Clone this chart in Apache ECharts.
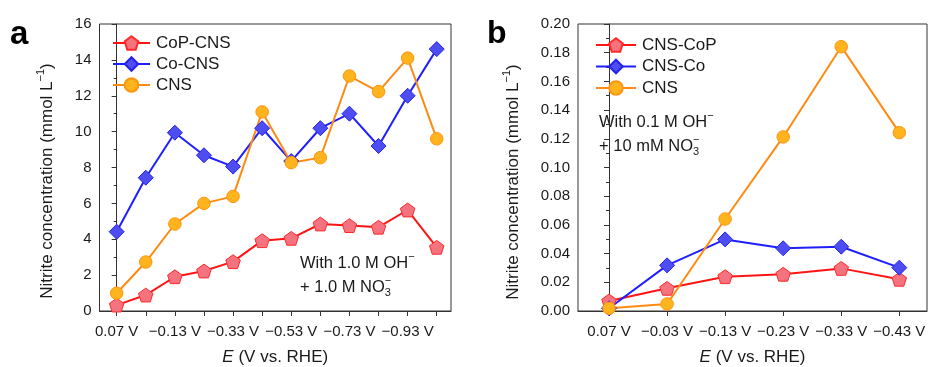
<!DOCTYPE html>
<html>
<head>
<meta charset="utf-8">
<script src="https://cdn.jsdelivr.net/npm/echarts@6/dist/echarts.min.js"></script>
<style>
  html, body { margin: 0; padding: 0; background: #fff; }
  #chart { width: 928px; height: 367px; }
</style>
</head>
<body>
<div id="chart"></div>
<script>
// ---- Panel a: 1.0 M OH- + 1.0 M NO3- ----
const potentialsA = ['0.07 V', '−0.03 V', '−0.13 V', '−0.23 V', '−0.33 V', '−0.43 V',
                     '−0.53 V', '−0.63 V', '−0.73 V', '−0.83 V', '−0.93 V', '−1.03 V'];
const copCnsA = [0.33, 0.89, 1.91, 2.23, 2.75, 3.92, 4.05, 4.85, 4.76, 4.67, 5.63, 3.55];
const coCnsA  = [4.42, 7.43, 9.94, 8.68, 8.05, 10.19, 8.36, 10.19, 11.0, 9.2, 12.0, 14.6];
const cnsA    = [0.99, 2.73, 4.85, 6.0, 6.39, 11.1, 8.27, 8.55, 13.1, 12.23, 14.1, 9.6];

// ---- Panel b: 0.1 M OH- + 10 mM NO3- ----
const potentialsB = ['0.07 V', '−0.03 V', '−0.13 V', '−0.23 V', '−0.33 V', '−0.43 V'];
const cnsCopB = [0.0070, 0.0158, 0.0239, 0.0256, 0.0297, 0.0221];
const cnsCoB  = [0.0019, 0.0318, 0.0499, 0.0437, 0.0448, 0.0302];
const cnsB    = [0.0019, 0.0049, 0.0641, 0.1213, 0.1842, 0.1243];

const namesA = ['CoP-CNS', 'Co-CNS', 'CNS'];
const namesB = ['CNS-CoP', 'CNS-Co', 'CNS'];

const FONT = '"Liberation Sans", Arial, sans-serif';
const INK = '#1a1a1a';
const PENTAGON = 'path://M0,-1L0.951,-0.309L0.588,0.809L-0.588,0.809L-0.951,-0.309Z';

const styles = [
  { line: '#ff1414', fill: '#f4737f', border: '#ff2a2a', symbol: PENTAGON, size: 14.5 },
  { line: '#1e1eff', fill: '#4d4df2', border: '#2424e6', symbol: 'diamond', size: 15 },
  { line: '#ff8a12', fill: '#ffb41e', border: '#ff9410', symbol: 'circle', size: 12.5 }
];

const pairs = vals => vals.map((v, i) => [i, v]);
const indices = arr => arr.map((_, i) => i);

// text measuring for hand-set sub/superscripts
const ctx = document.createElement('canvas').getContext('2d');
function textWidth(t, size, style) {
  ctx.font = (style || 'normal') + ' ' + size + 'px ' + FONT;
  return ctx.measureText(t).width;
}
// lays out text pieces along a line starting at local x = 0
function pieces(parts, align) {
  let x = 0, out = [];
  parts.forEach(p => {
    const w = textWidth(p.t, p.size, p.fontStyle);
    out.push({ t: p.t, size: p.size, x: x, dy: p.dy || 0, fontStyle: p.fontStyle });
    if (!p.hold) x += w;
  });
  const shift = align === 'center' ? -x / 2 : 0;
  return out.map(o => ({
    type: 'text',
    x: o.x + shift,
    y: o.dy,
    style: {
      text: o.t, fill: INK, font: (o.fontStyle || 'normal') + ' ' + o.size + 'px ' + FONT,
      align: 'left', verticalAlign: 'middle'
    }
  }));
}

function series(name, vals, st, xi) {
  return {
    type: 'line', name: name, xAxisIndex: xi, yAxisIndex: xi,
    data: pairs(vals),
    symbol: st.symbol, symbolSize: st.size, symbolKeepAspect: true,
    lineStyle: { color: st.line, width: 2 },
    itemStyle: { color: st.fill, borderColor: st.border, borderWidth: 1 },
    emphasis: { disabled: true },
    z: 2
  };
}

function xAxis(gi, labels, min, max, step) {
  return {
    type: 'value', gridIndex: gi, min: min, max: max,
    axisLine: { show: true, onZero: false, lineStyle: { color: '#333', width: 1 } },
    axisTick: { show: true, length: 5, customValues: indices(labels), lineStyle: { color: '#333' } },
    axisLabel: {
      customValues: indices(labels).filter(i => i % step === 0),
      formatter: v => labels[Math.round(v)],
      fontFamily: FONT, fontSize: 15, color: INK, margin: 13
    },
    splitLine: { show: false },
    name: '{i|E} (V vs. RHE)', nameLocation: 'middle', nameGap: 38,
    nameTextStyle: { fontFamily: FONT, fontSize: 17, color: INK, rich: { i: { fontStyle: 'italic', fontFamily: FONT, fontSize: 17, color: INK } } }
  };
}

function yAxis(gi, max, interval, digits) {
  return {
    type: 'value', gridIndex: gi, min: 0, max: max, interval: interval,
    axisLine: { show: true, lineStyle: { color: '#333', width: 1 } },
    axisTick: { show: true, length: 5, lineStyle: { color: '#333' } },
    minorTick: { show: true, splitNumber: 2, length: 3, lineStyle: { color: '#333' } },
    axisLabel: { formatter: v => v.toFixed(digits), fontFamily: FONT, fontSize: 15, color: INK, margin: 8 },
    splitLine: { show: false }
  };
}

function legend(names, left, top, width, gap) {
  return {
    data: names, orient: 'vertical', left: left, top: top, padding: 0,
    itemWidth: width, itemHeight: 17, itemGap: gap,
    textStyle: { fontFamily: FONT, fontSize: 17, color: INK, padding: [0, 0, 0, 1] },
    selectedMode: false
  };
}

const SUP = 11;
const graphics = [
  { type: 'text', left: 10, top: 18, style: { text: 'a', font: 'bold 33px ' + FONT, fill: '#000' } },
  { type: 'text', left: 487, top: 18, style: { text: 'b', font: 'bold 32px ' + FONT, fill: '#000' } },
  // y-axis titles (rotated)
  { type: 'group', x: 47, y: 181, rotation: Math.PI / 2,
    children: pieces([{ t: 'Nitrite concentration (mmol L', size: 17 }, { t: '−1', size: SUP, dy: -6 }, { t: ')', size: 17 }], 'center') },
  { type: 'group', x: 513, y: 182, rotation: Math.PI / 2,
    children: pieces([{ t: 'Nitrite concentration (mmol L', size: 17 }, { t: '−1', size: SUP, dy: -6 }, { t: ')', size: 17 }], 'center') },
  // condition notes
  { type: 'group', x: 300, y: 263,
    children: pieces([{ t: 'With 1.0 M OH', size: 16.5 }, { t: '−', size: SUP, dy: -6 }]) },
  { type: 'group', x: 300, y: 287,
    children: pieces([{ t: '+ 1.0 M NO', size: 16.5 }, { t: '3', size: SUP, dy: 6, hold: true }, { t: '−', size: SUP, dy: -6 }]) },
  { type: 'group', x: 599, y: 122,
    children: pieces([{ t: 'With 0.1 M OH', size: 16.5 }, { t: '−', size: SUP, dy: -6 }]) },
  { type: 'group', x: 599, y: 146,
    children: pieces([{ t: '+ 10 mM NO', size: 16.5 }, { t: '3', size: SUP, dy: 6, hold: true }, { t: '−', size: SUP, dy: -6 }]) }
];

const chart = echarts.init(document.getElementById('chart'), null, { renderer: 'canvas' });
chart.setOption({
  animation: false,
  backgroundColor: '#fff',
  grid: [
    { left: 99.5, top: 24, width: 351.5, height: 287, outerBoundsMode: 'none', show: true, borderColor: '#333', borderWidth: 1, backgroundColor: 'transparent' },
    { left: 578, top: 24, width: 349, height: 287, outerBoundsMode: 'none', show: true, borderColor: '#333', borderWidth: 1, backgroundColor: 'transparent' }
  ],
  xAxis: [
    xAxis(0, potentialsA, -0.59, 11.49, 2),
    xAxis(1, potentialsB, -0.534, 5.477, 1)
  ],
  yAxis: [
    yAxis(0, 16, 2, 0),
    yAxis(1, 0.2, 0.02, 2)
  ],
  legend: [
    legend(namesA, 112, 34.5, 37, 4),
    legend(namesB, 595, 36.5, 40, 4.5)
  ],
  series: [
    series(namesA[0], copCnsA, styles[0], 0),
    series(namesA[1], coCnsA, styles[1], 0),
    series(namesA[2], cnsA, styles[2], 0),
    series(namesB[0], cnsCopB, styles[0], 1),
    series(namesB[1], cnsCoB, styles[1], 1),
    series(namesB[2], cnsB, styles[2], 1)
  ],
  graphic: graphics
});
</script>
</body>
</html>
